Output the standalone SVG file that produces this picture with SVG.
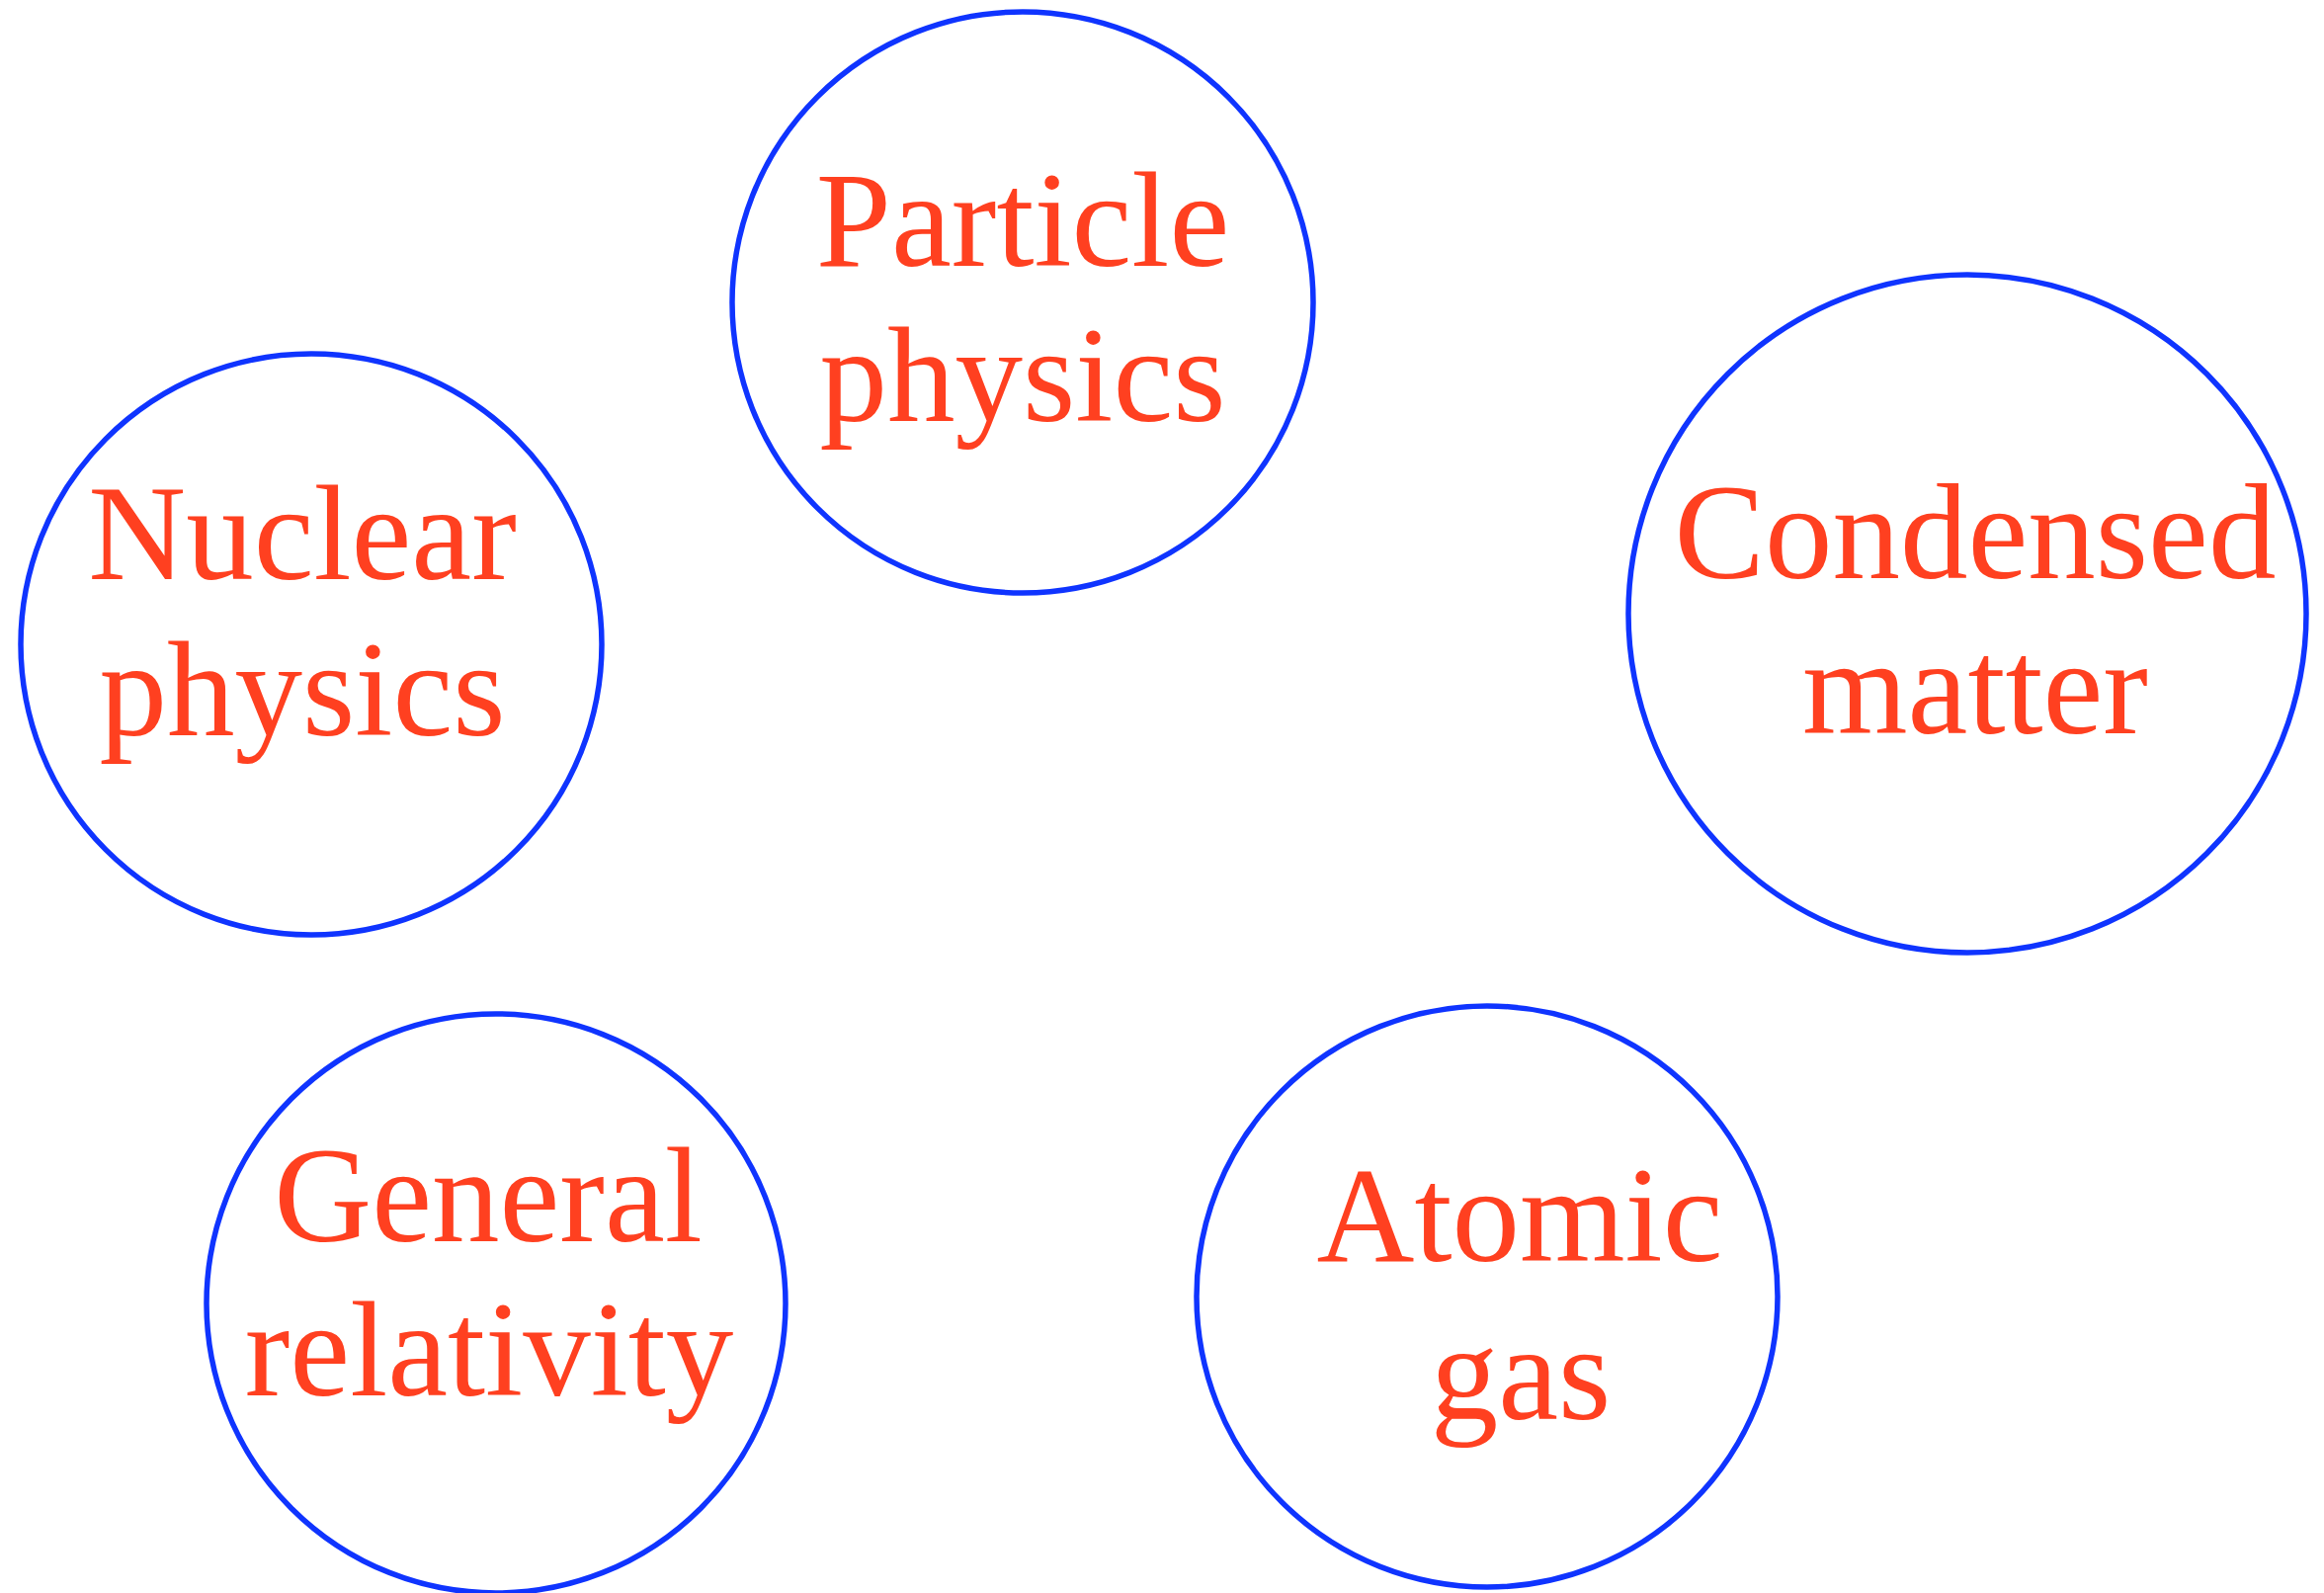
<svg xmlns="http://www.w3.org/2000/svg" width="2352" height="1612" viewBox="0 0 2352 1612">
<style>
.ring{fill:none;stroke:#0f34ff;stroke-width:5.5}
.lbl{font-family:"Liberation Serif","Times New Roman",serif;font-size:137px;fill:#ff4020;text-anchor:middle}
</style>
<rect width="2352" height="1612" fill="#ffffff"/>
<g id="connectors"></g>
<g id="particle-physics">
<circle class="ring" cx="1035" cy="306" r="294"/>
<text class="lbl" x="1035" y="269">Particle</text>
<text class="lbl" x="1035" y="426">physics</text>
</g>
<g id="nuclear-physics">
<circle class="ring" cx="315" cy="652" r="294"/>
<text class="lbl" x="306" y="586">Nuclear</text>
<text class="lbl" x="306" y="744">physics</text>
</g>
<g id="condensed-matter">
<circle class="ring" cx="1991" cy="621" r="343"/>
<text class="lbl" x="1999" y="585">Condensed</text>
<text class="lbl" x="1999" y="742">matter</text>
</g>
<g id="general-relativity">
<circle class="ring" cx="502" cy="1319" r="293"/>
<text class="lbl" x="494" y="1256">General</text>
<text class="lbl" x="495" y="1412">relativity</text>
</g>
<g id="atomic-gas">
<circle class="ring" cx="1505" cy="1312" r="294"/>
<text class="lbl" x="1538" y="1276">Atomic</text>
<text class="lbl" x="1539" y="1436">gas</text>
</g>
</svg>
